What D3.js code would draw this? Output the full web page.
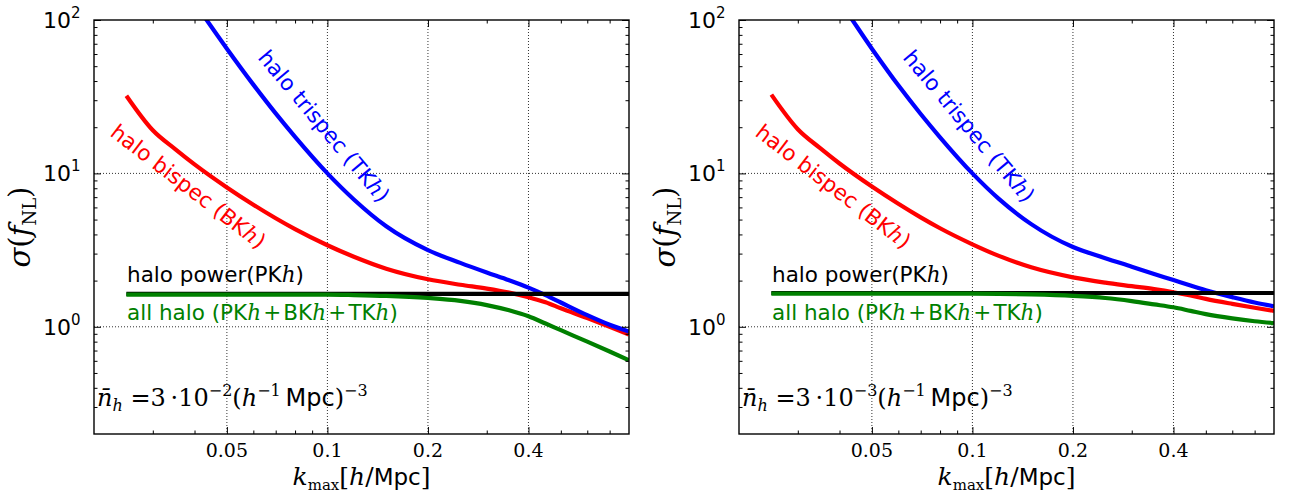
<!DOCTYPE html>
<html>
<head>
<meta charset="utf-8">
<script src="https://cdn.jsdelivr.net/npm/d3@7"></script>
<style>
  body { margin: 0; background: #fff; }
  svg { display: block; }
</style>
</head>
<body>
<svg id="chart" width="1289" height="500"></svg>
<script>
// k_max sampling points [h/Mpc]
const kValues = [0.025, 0.03, 0.035, 0.04, 0.05, 0.06, 0.07, 0.08, 0.1, 0.12, 0.15,
                 0.2, 0.25, 0.3, 0.35, 0.4, 0.45, 0.5, 0.6, 0.7, 0.8];

// sigma(f_NL), halo density 3e-2 (h^-1 Mpc)^-3
const powerHigh   = [1.64, 1.64, 1.64, 1.64, 1.64, 1.64, 1.64, 1.64, 1.64, 1.64, 1.64,
                     1.64, 1.64, 1.64, 1.64, 1.64, 1.64, 1.64, 1.64, 1.64, 1.64];
const bispecHigh  = [32.1, 19.1, 14.4, 11.45, 8.1, 6.25, 5.10, 4.33, 3.4, 2.86, 2.39,
                     2.04, 1.88, 1.775, 1.67, 1.56, 1.445, 1.32, 1.14, 1.00, 0.89];
const trispecHigh = [613, 330, 199, 130, 65, 37.9, 24.6, 17.3, 10.0, 6.76, 4.52,
                     3.16, 2.61, 2.26, 2.01, 1.80, 1.61, 1.44, 1.19, 1.03, 0.93];
const allHigh     = [1.62, 1.62, 1.62, 1.62, 1.62, 1.62, 1.62, 1.62, 1.62, 1.61, 1.59,
                     1.54, 1.475, 1.385, 1.28, 1.17, 1.05, 0.95, 0.80, 0.69, 0.605];

// sigma(f_NL), halo density 3e-3 (h^-1 Mpc)^-3
const powerLow    = [1.66, 1.66, 1.66, 1.66, 1.66, 1.66, 1.66, 1.66, 1.66, 1.66, 1.66,
                     1.66, 1.66, 1.66, 1.66, 1.66, 1.66, 1.66, 1.66, 1.66, 1.66];
const bispecLow   = [32.6, 19.4, 14.6, 11.6, 8.21, 6.34, 5.17, 4.39, 3.45, 2.90, 2.44,
                     2.10, 1.94, 1.84, 1.76, 1.68, 1.60, 1.52, 1.41, 1.33, 1.27];
const trispecLow  = [599, 322, 194, 132, 65, 37.5, 24.4, 17.2, 10.0, 6.82, 4.67,
                     3.31, 2.80, 2.465, 2.21, 2.015, 1.855, 1.73, 1.56, 1.44, 1.36];
const allLow      = [1.645, 1.645, 1.645, 1.645, 1.645, 1.645, 1.645, 1.645, 1.645, 1.64, 1.625,
                     1.59, 1.54, 1.47, 1.40, 1.34, 1.27, 1.21, 1.135, 1.087, 1.056];

// axis ticks
const xMajorTicks = [0.05, 0.1, 0.2, 0.4];
const xTickLabels = ["0.05", "0.1", "0.2", "0.4"];
const xMinorTicks = [0.03, 0.04, 0.06, 0.07, 0.08, 0.09, 0.3, 0.5, 0.6, 0.7];
const yMajorTicks = [1, 10, 100];
const yTickExponents = ["0", "1", "2"];
const yMinorTicks = [0.3, 0.4, 0.5, 0.6, 0.7, 0.8, 0.9, 2, 3, 4, 5, 6, 7, 8, 9,
                     20, 30, 40, 50, 60, 70, 80, 90];

const panels = [
  { id: "hi", left: 94,  exponent: "\u22122", power: powerHigh, bispec: bispecHigh, trispec: trispecHigh, all: allHigh },
  { id: "lo", left: 739, exponent: "\u22123", power: powerLow,  bispec: bispecLow,  trispec: trispecLow,  all: allLow }
];

const SANS = "DejaVu Sans";
const SERIF = "DejaVu Serif";
const W = 535, H = 414, TOP = 20;

const x = d3.scaleLog().domain([0.02, 0.8]).range([0, W]);
const y = d3.scaleLog().domain([0.2, 100]).range([H, 0]);

const svg = d3.select("#chart");

// mixed-font text built from tspans; off = baseline offset (positive = down)
function rich(sel, segs) {
  let cur = 0;
  segs.forEach(s => {
    const off = s.off || 0;
    sel.append("tspan")
      .attr("dy", off - cur)
      .style("font-family", s.f || SANS)
      .style("font-size", (s.s || 21.5) + "px")
      .style("font-style", s.it ? "italic" : "normal")
      .text(s.t);
    cur = off;
  });
  return sel;
}

const line = d3.line()
  .x((d) => x(d.k))
  .y((d) => y(d.v))
  .curve(d3.curveMonotoneX);

panels.forEach((p) => {
  const g = svg.append("g").attr("transform", `translate(${p.left},${TOP})`);

  g.append("clipPath").attr("id", "clip-" + p.id)
    .append("rect").attr("width", W).attr("height", H);

  // dotted grid at the major ticks
  const grid = g.append("g")
    .attr("stroke", "#333").attr("stroke-width", 1).attr("stroke-dasharray", "1,2");
  grid.selectAll(".gx").data(xMajorTicks).join("line")
    .attr("x1", (d) => x(d)).attr("x2", (d) => x(d))
    .attr("y1", 0).attr("y2", H);
  grid.selectAll(".gy").data([1, 10]).join("line")
    .attr("y1", (d) => y(d)).attr("y2", (d) => y(d))
    .attr("x1", 0).attr("x2", W);

  // curves
  const curves = g.append("g").attr("clip-path", `url(#clip-${p.id})`)
    .attr("fill", "none").attr("stroke-width", 4.2).attr("stroke-linejoin", "round");
  const series = [
    { vals: p.bispec,  color: "#ff0000" },
    { vals: p.trispec, color: "#0000ff" },
    { vals: p.power,   color: "#000000" },
    { vals: p.all,     color: "#008000" }
  ];
  series.forEach((s) => {
    curves.append("path")
      .datum(kValues.map((k, i) => ({ k, v: s.vals[i] })))
      .attr("stroke", s.color)
      .attr("d", line);
  });

  // inward ticks on all four sides
  const addAxis = (axis, tr) => {
    const a = g.append("g").attr("transform", tr).call(axis);
    a.select(".domain").remove();
    a.selectAll("text").remove();
    a.selectAll("line").attr("stroke", "#000").attr("stroke-width", 1);
  };
  addAxis(d3.axisBottom(x).tickValues(xMajorTicks).tickSize(-7), `translate(0,${H})`);
  addAxis(d3.axisBottom(x).tickValues(xMinorTicks).tickSize(-3.5), `translate(0,${H})`);
  addAxis(d3.axisTop(x).tickValues(xMajorTicks).tickSize(-7), "translate(0,0)");
  addAxis(d3.axisTop(x).tickValues(xMinorTicks).tickSize(-3.5), "translate(0,0)");
  addAxis(d3.axisLeft(y).tickValues(yMajorTicks).tickSize(-7), "translate(0,0)");
  addAxis(d3.axisLeft(y).tickValues(yMinorTicks).tickSize(-3.5), "translate(0,0)");
  addAxis(d3.axisRight(y).tickValues(yMajorTicks).tickSize(-7), `translate(${W},0)`);
  addAxis(d3.axisRight(y).tickValues(yMinorTicks).tickSize(-3.5), `translate(${W},0)`);

  // frame
  g.append("rect").attr("width", W).attr("height", H)
    .attr("fill", "none").attr("stroke", "#000").attr("stroke-width", 1.4);

  // x tick labels
  g.selectAll(".xl").data(xMajorTicks).join("text")
    .attr("x", (d) => x(d)).attr("y", H + 23)
    .attr("text-anchor", "middle")
    .style("font-family", SERIF).style("font-size", "19px")
    .text((d, i) => xTickLabels[i]);

  // y tick labels 10^n
  yMajorTicks.forEach((d, i) => {
    const t = g.append("text").attr("x", -51).attr("y", y(d) + 8);
    rich(t, [
      { t: "10", s: 22 },
      { t: yTickExponents[i], s: 15, off: -10 }
    ]);
  });

  // axis titles
  const xl = g.append("text").attr("x", W / 2).attr("y", H + 51).attr("text-anchor", "middle");
  rich(xl, [
    { t: "k", f: SERIF, it: true, s: 25 },
    { t: "max", f: SERIF, s: 15, off: 5 },
    { t: "[", f: SERIF, s: 25 },
    { t: "h", f: SERIF, it: true, s: 25 },
    { t: "/", f: SERIF, s: 25 },
    { t: "Mpc", f: SANS, s: 23 },
    { t: "]", f: SERIF, s: 25 }
  ]);

  const yl = g.append("text")
    .attr("transform", `translate(-64,${H / 2}) rotate(-90)`)
    .attr("text-anchor", "middle");
  rich(yl, [
    { t: "\u03c3", f: SERIF, it: true, s: 29 },
    { t: "(", f: SERIF, s: 29 },
    { t: "f", f: SERIF, it: true, s: 29 },
    { t: "NL", f: SERIF, s: 18, off: 6 },
    { t: ")", f: SERIF, s: 29 }
  ]);

  // curve labels
  const hMath = { t: "h", f: SERIF, it: true, s: 21.5 };
  const plus = { t: "\u200a+\u200a", f: SERIF, s: 21.5 };
  const tri = g.append("text").attr("transform", "translate(163,38) rotate(50)").attr("fill", "#0000ff");
  rich(tri, [{ t: "halo trispec (TK" }, hMath, { t: ")" }]);

  const bi = g.append("text").attr("transform", "translate(15,115) rotate(37.5)").attr("fill", "#ff0000");
  rich(bi, [{ t: "halo bispec (BK" }, hMath, { t: ")" }]);

  const pw = g.append("text").attr("x", 33).attr("y", 262).attr("fill", "#000");
  rich(pw, [{ t: "halo power(PK" }, hMath, { t: ")" }]);

  const al = g.append("text").attr("x", 33).attr("y", 300).attr("fill", "#008000");
  rich(al, [
    { t: "all halo (PK" }, hMath, plus,
    { t: "BK" }, hMath, plus,
    { t: "TK" }, hMath,
    { t: ")" }
  ]);

  // halo number density
  const nd = g.append("text").attr("x", 3).attr("y", 386).attr("fill", "#000");
  rich(nd, [
    { t: "n\u0304", f: SERIF, it: true, s: 24 },
    { t: "h", f: SERIF, it: true, s: 16, off: 5 },
    { t: " =3\u2009\u00b710", f: SERIF, s: 24 },
    { t: p.exponent, f: SERIF, s: 16, off: -10 },
    { t: "(", f: SERIF, s: 24 },
    { t: "h", f: SERIF, it: true, s: 24 },
    { t: "\u22121", f: SERIF, s: 16, off: -10 },
    { t: "\u2009Mpc", f: SANS, s: 24 },
    { t: ")", f: SERIF, s: 24 },
    { t: "\u22123", f: SERIF, s: 16, off: -10 }
  ]);
});
</script>
</body>
</html>
